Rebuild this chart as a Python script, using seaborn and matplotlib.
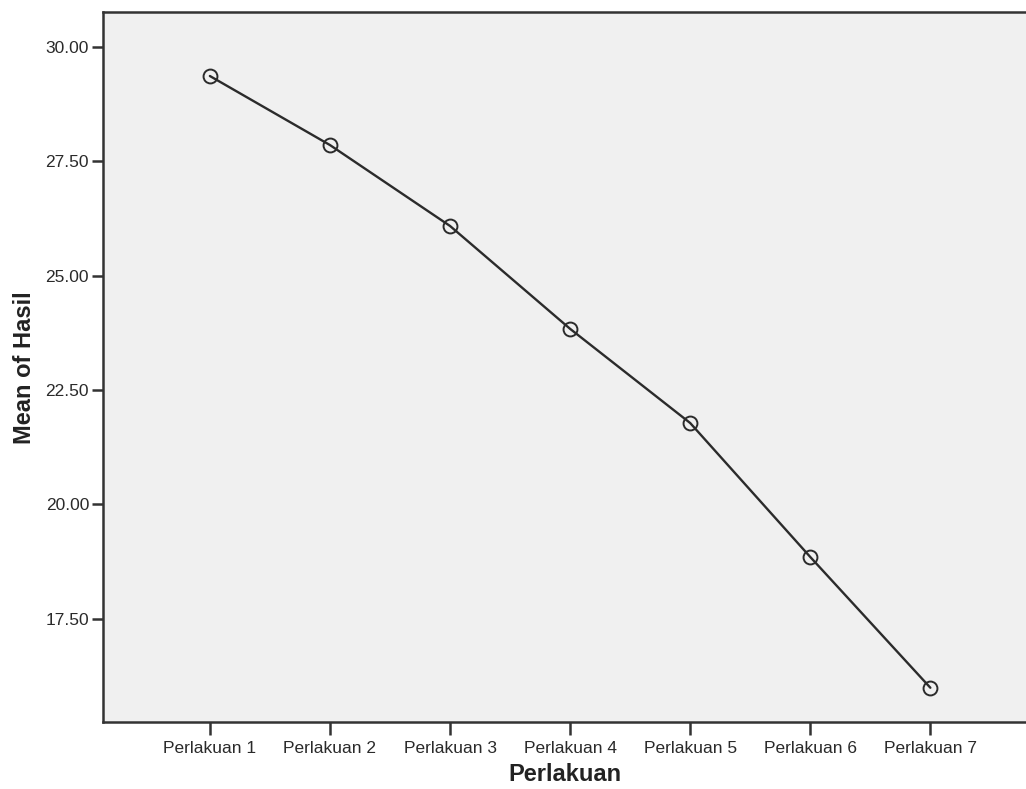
import pandas as pd
import seaborn as sns
import matplotlib.pyplot as plt

# data
perlakuan = ['Perlakuan 1', 'Perlakuan 2', 'Perlakuan 3', 'Perlakuan 4',
             'Perlakuan 5', 'Perlakuan 6', 'Perlakuan 7']
mean_hasil = [29.37, 27.86, 26.09, 23.84, 21.78, 18.85, 15.99]
y_ticks = [17.5, 20.0, 22.5, 25.0, 27.5, 30.0]

df = pd.DataFrame({'Perlakuan': perlakuan, 'Hasil': mean_hasil})

sns.set_style('ticks')
plt.rcParams['font.family'] = ['Liberation Sans', 'DejaVu Sans']

fig = plt.figure(figsize=(10.26, 7.89), dpi=100)
ax = fig.add_axes([0.1004, 0.0843, 0.9, 0.9005])
ax.set_facecolor('#f0f0f0')

sns.lineplot(data=df, x='Perlakuan', y='Hasil', ax=ax, color='#2b2b2b',
             linewidth=1.7, marker='o', markersize=10, markerfacecolor='none',
             markeredgecolor='#2b2b2b', markeredgewidth=1.4, sort=False)

ax.set_xlim(-0.89, 6.8)
ax.set_ylim(15.23, 30.77)
ax.set_yticks(y_ticks)
ax.set_yticklabels([f'{v:.2f}' for v in y_ticks])

ax.tick_params(axis='both', direction='out', length=8, width=1.8, colors='#333333',
               labelsize=12.5, labelcolor='#2a2a2a')
ax.tick_params(axis='x', length=9, pad=4.5)
ax.tick_params(axis='y', pad=2)

for side in ['left', 'bottom', 'top']:
    ax.spines[side].set_linewidth(1.8)
    ax.spines[side].set_color('#333333')
ax.spines['right'].set_visible(False)

ax.set_xlabel('Perlakuan', fontsize=17, fontweight='bold', color='#222222', labelpad=5)
ax.set_ylabel('Mean of Hasil', fontsize=17, fontweight='bold', color='#222222', labelpad=7)

plt.savefig('out.png', dpi=100)
